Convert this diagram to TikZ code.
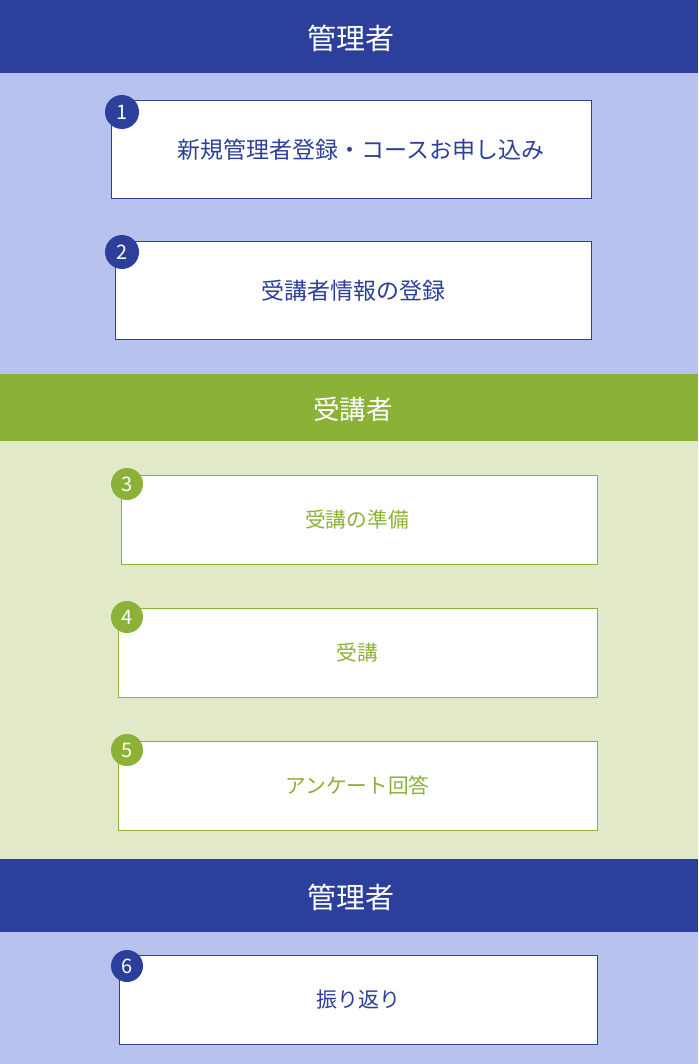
\documentclass[tikz,border=0pt]{standalone}
\usepackage{fontspec}
\setmainfont{Noto Sans CJK JP}
\usepackage{tikz}

\definecolor{kanri}{HTML}{2C3F9B}
\definecolor{kanrilight}{HTML}{B8C2EF}
\definecolor{jukou}{HTML}{8BB236}
\definecolor{jukoulight}{HTML}{E2E9C8}

\begin{document}
\begin{tikzpicture}[x=1pt,y=-1pt,
	head/.style={text=white, font=\fontsize{29}{32}\selectfont},
	bluebox/.style={draw=kanri, fill=white, line width=1pt, minimum height=98pt, text=kanri, font=\fontsize{23}{27}\selectfont, inner sep=0pt},
	greenbox/.style={draw=jukou, fill=white, line width=1pt, minimum height=89pt, text=jukou, font=\fontsize{20.7}{24}\selectfont, inner sep=0pt},
	num/.style={circle, minimum size=34pt, inner sep=0pt, text=white, font=\fontsize{20}{23}\selectfont}]
	%\draw[help lines] (0,0) grid[step=50] (698,1064);
	\useasboundingbox (0,0) rectangle (698,1064);
	% bands
	\fill[kanri] (0,0) rectangle (698,73);
	\fill[kanrilight] (0,73) rectangle (698,374);
	\fill[jukou] (0,374) rectangle (698,441);
	\fill[jukoulight] (0,441) rectangle (698,859);
	\fill[kanri] (0,859) rectangle (698,932);
	\fill[kanrilight] (0,932) rectangle (698,1064);
	\node[head] (h1) at (351,38) {管理者};
	\node[head, font=\fontsize{26.5}{30}\selectfont] (h2) at (353,409) {受講者};
	\node[head] (h3) at (351,897) {管理者};
	% steps
	\node[bluebox, minimum width=480pt] (s1) at (351,150) {\hspace{20pt}新規管理者登録・コースお申し込み};
	\node[bluebox, minimum width=476pt] (s2) at (353,290.5) {受講者情報の登録};
	\node[greenbox, minimum width=476pt] (s3) at (359,519.5) {\hspace{-4pt}受講の準備};
	\node[greenbox, minimum width=479pt] (s4) at (357.5,652.5) {受講};
	\node[greenbox, minimum width=479pt] (s5) at (357.5,785.5) {アンケート回答};
	\node[bluebox, minimum width=478pt, minimum height=89pt, font=\fontsize{21}{25}\selectfont] (s6) at (358,999.5) {振り返り};
	% numbers
	\node[num, fill=kanri] (n1) at (122,112) {1};
	\node[num, fill=kanri] (n2) at (122,252) {2};
	\node[num, fill=jukou, minimum size=32pt] (n3) at (127,484) {3};
	\node[num, fill=jukou, minimum size=32pt] (n4) at (127,617) {4};
	\node[num, fill=jukou, minimum size=32pt] (n5) at (127,750) {5};
	\node[num, fill=kanri, minimum size=32pt] (n6) at (127,966) {6};
\end{tikzpicture}
\end{document}
